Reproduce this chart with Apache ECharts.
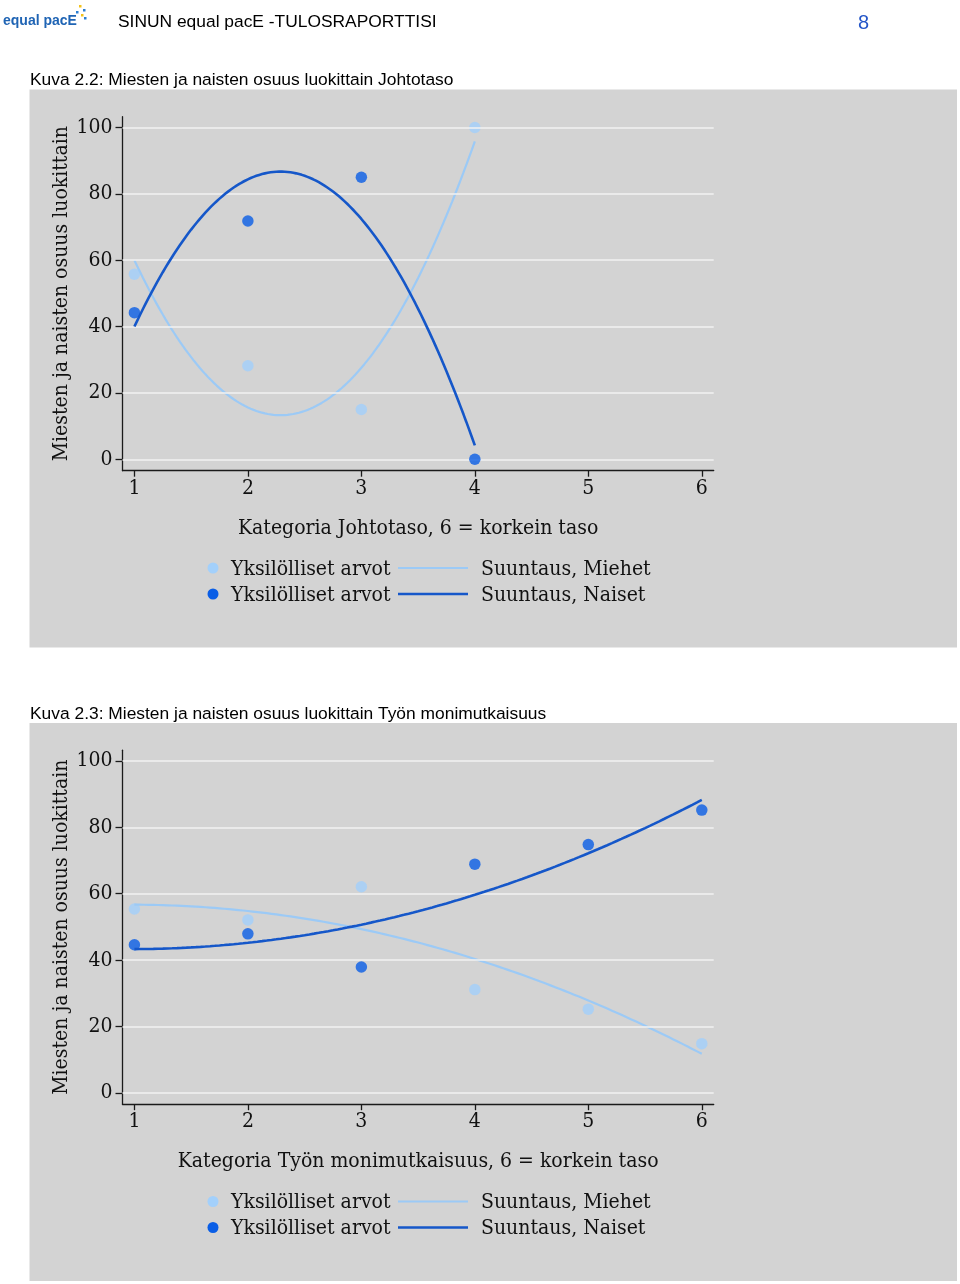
<!DOCTYPE html>
<html><head><meta charset="utf-8">
<script src="https://cdn.jsdelivr.net/npm/echarts@6/dist/echarts.min.js"></script>
<style>html,body{margin:0;padding:0;background:#fff}#c{width:960px;height:1284px}</style>
</head><body><div id="c"></div>
<script>
// ---- data ----
const categories1 = [1, 2, 3, 4];
const men1 = [55.8, 28.2, 15.0, 100];
const women1 = [44.2, 71.8, 85.0, 0];
const categories2 = [1, 2, 3, 4, 5, 6];
const men2 = [55.4, 52.1, 62.1, 31.1, 25.2, 14.8];
const women2 = [44.6, 47.9, 37.9, 68.9, 74.8, 85.2];
const xTickValues = [1, 2, 3, 4, 5, 6];
const yTickValues = [0, 20, 40, 60, 80, 100];
const headerTitle = 'SINUN equal pacE -TULOSRAPORTTISI';
const pageNumber = '8';
const logoText = 'equal pacE';
const caption1 = 'Kuva 2.2: Miesten ja naisten osuus luokittain Johtotaso';
const caption2 = 'Kuva 2.3: Miesten ja naisten osuus luokittain Työn monimutkaisuus';
const xTitle1 = 'Kategoria Johtotaso, 6 = korkein taso';
const xTitle2 = 'Kategoria Työn monimutkaisuus, 6 = korkein taso';
const yTitle = 'Miesten ja naisten osuus luokittain';
const legendPoints = 'Yksilölliset arvot';
const legendMen = 'Suuntaus, Miehet';
const legendWomen = 'Suuntaus, Naiset';

// ---- styling ----
const SERIF = '"DejaVu Serif Condensed", "DejaVu Serif", serif';
const SANS = '"Liberation Sans", Arial, sans-serif';
const LIGHT_DOT = '#a3d0fb';
const DARK_DOT = '#0a5ee6';
const LIGHT_LINE = '#9ccaf6';
const DARK_LINE = '#1557c9';
const PANEL = '#d3d3d3';
const FS = 21;

// quadratic least-squares fit (the trend the original chart draws)
function quadFit(xs, ys) {
  let S = [0, 0, 0, 0, 0], T = [0, 0, 0];
  for (let i = 0; i < xs.length; i++) {
    let p = 1;
    for (let k = 0; k < 5; k++) { S[k] += p; if (k < 3) T[k] += p * ys[i]; p *= xs[i]; }
  }
  const A = [[S[0], S[1], S[2], T[0]], [S[1], S[2], S[3], T[1]], [S[2], S[3], S[4], T[2]]];
  for (let i = 0; i < 3; i++) {
    for (let j = i + 1; j < 3; j++) {
      const f = A[j][i] / A[i][i];
      for (let k = i; k < 4; k++) A[j][k] -= f * A[i][k];
    }
  }
  const c = [0, 0, 0];
  for (let i = 2; i >= 0; i--) {
    let s = A[i][3];
    for (let k = i + 1; k < 3; k++) s -= A[i][k] * c[k];
    c[i] = s / A[i][i];
  }
  return x => c[0] + c[1] * x + c[2] * x * x;
}
function fitCurve(xs, ys) {
  const f = quadFit(xs, ys);
  const pts = [];
  const x0 = xs[0], x1 = xs[xs.length - 1];
  const n = 120;
  for (let i = 0; i <= n; i++) { const x = x0 + (x1 - x0) * i / n; pts.push([x, f(x)]); }
  return pts;
}
const pairs = (xs, ys) => xs.map((x, i) => [x, ys[i]]);

const DY = 633.5;
const grids = [0, 1].map(i => ({ left: 122.5, top: 116.7 + i * DY, width: 591.2, height: 354, outerBoundsMode: 'none', containLabel: false }));
const axisLineStyle = { color: '#1a1a1a', width: 1.3 };
const xAxes = [xTitle1, xTitle2].map((t, i) => ({
  type: 'value', gridIndex: i, min: 0.895, max: 6.105,
  axisLine: { show: true, onZero: false, lineStyle: axisLineStyle },
  axisTick: { show: true, customValues: xTickValues, length: 6, lineStyle: axisLineStyle },
  axisLabel: { customValues: xTickValues, margin: 7, color: '#111', fontSize: FS, fontFamily: SERIF },
  splitLine: { show: false },
  name: t, nameLocation: 'middle', nameGap: 47, nameMoveOverlap: false,
  nameTextStyle: { color: '#111', fontSize: FS, fontFamily: SERIF }
}));
const yAxes = [0, 1].map(i => ({
  type: 'value', gridIndex: i, min: -3.44, max: 103.25,
  axisLine: { show: true, onZero: false, lineStyle: axisLineStyle },
  axisTick: { show: true, customValues: yTickValues, length: 7, lineStyle: axisLineStyle },
  axisLabel: { customValues: yTickValues, margin: 10, color: '#111', fontSize: FS, fontFamily: SERIF },
  splitLine: { show: false },
  name: yTitle, nameLocation: 'middle', nameGap: 50, nameMoveOverlap: false,
  nameTextStyle: { color: '#111', fontSize: FS, fontFamily: SERIF }
}));

function chartSeries(idx, cats, men, women) {
  return [
    { type: 'line', xAxisIndex: idx, yAxisIndex: idx, data: [], z: 1, silent: true,
      markLine: { silent: true, symbol: 'none', label: { show: false },
        lineStyle: { color: '#f2f2f2', width: 1.6, type: 'solid' },
        data: yTickValues.map(v => ({ yAxis: v })) } },
    { type: 'scatter', xAxisIndex: idx, yAxisIndex: idx, data: pairs(cats, men), symbolSize: 11.5,
      itemStyle: { color: LIGHT_DOT }, z: 3 },
    { type: 'line', xAxisIndex: idx, yAxisIndex: idx, data: fitCurve(cats, men), showSymbol: false,
      lineStyle: { color: LIGHT_LINE, width: 2.2 }, z: 4 },
    { type: 'scatter', xAxisIndex: idx, yAxisIndex: idx, data: pairs(cats, women), symbolSize: 11.5,
      itemStyle: { color: DARK_DOT }, z: 5 },
    { type: 'line', xAxisIndex: idx, yAxisIndex: idx, data: fitCurve(cats, women), showSymbol: false,
      lineStyle: { color: DARK_LINE, width: 2.6 }, z: 6 }
  ];
}

const graphics = [];
// header
graphics.push({ type: 'text', left: 3, top: 14, style: { text: logoText, font: 'bold 14px ' + SANS, fill: '#1f64b4' } });
[[79, 5, '#f2c21b'], [83, 9, '#2a7fd4'], [76, 11, '#2a7fd4'], [81, 14, '#f2c21b'], [84, 17, '#2a7fd4']].forEach(d =>
  graphics.push({ type: 'rect', shape: { x: d[0], y: d[1], width: 2.5, height: 2.5 }, style: { fill: d[2] } }));
graphics.push({ type: 'text', left: 118, top: 14, style: { text: headerTitle, font: '17.4px ' + SANS, fill: '#000' } });
graphics.push({ type: 'text', left: 858, top: 13, style: { text: pageNumber, font: '20px ' + SANS, fill: '#2456c8' } });
// captions and panels
[caption1, caption2].forEach((cap, i) => {
  graphics.push({ type: 'text', left: 30, top: 72 + i * DY, style: { text: cap, font: '17.4px ' + SANS, fill: '#000' } });
  graphics.push({ type: 'rect', z: -10, shape: { x: 29.5, y: 89.5 + i * DY, width: 927.5, height: 558 }, style: { fill: PANEL } });
  const rows = [[569.5, LIGHT_DOT, LIGHT_LINE, 2.2, legendMen], [595.5, DARK_DOT, DARK_LINE, 2.6, legendWomen]];
  rows.forEach(r => {
    const y = r[0] + i * DY;
    graphics.push({ type: 'circle', shape: { cx: 213, cy: y - 1.5, r: 5.5 }, style: { fill: r[1] } });
    graphics.push({ type: 'text', x: 231, y: y, style: { text: legendPoints, font: FS + 'px ' + SERIF, fill: '#111', verticalAlign: 'middle' } });
    graphics.push({ type: 'line', shape: { x1: 398, y1: y - 1.5, x2: 468, y2: y - 1.5 }, style: { stroke: r[2], lineWidth: r[3] } });
    graphics.push({ type: 'text', x: 481, y: y, style: { text: r[4], font: FS + 'px ' + SERIF, fill: '#111', verticalAlign: 'middle' } });
  });
});

const chart = echarts.init(document.getElementById('c'), null, { renderer: 'canvas' });
chart.setOption({
  animation: false,
  backgroundColor: '#fff',
  grid: grids,
  xAxis: xAxes,
  yAxis: yAxes,
  graphic: graphics,
  series: [...chartSeries(0, categories1, men1, women1), ...chartSeries(1, categories2, men2, women2)]
});
</script>
</body></html>
